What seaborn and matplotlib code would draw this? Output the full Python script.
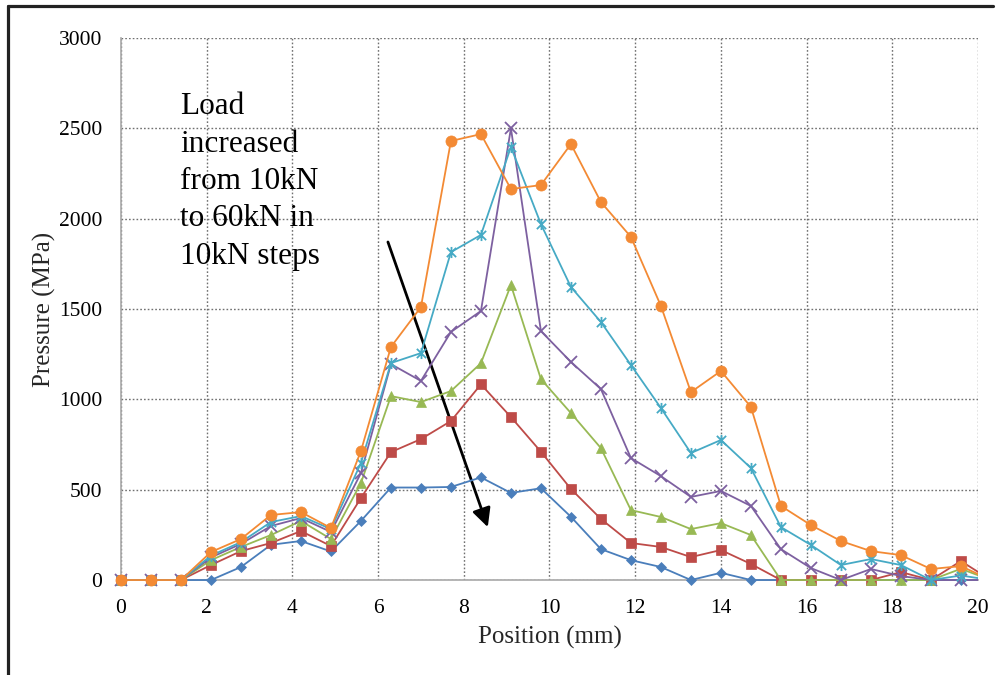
import matplotlib
matplotlib.use("Agg")
import matplotlib.pyplot as plt
from matplotlib.lines import Line2D
from matplotlib.patches import Rectangle
from matplotlib.path import Path
import seaborn as sns
import pandas as pd

# ---- data ----
position = [0.0, 0.7, 1.4, 2.1, 2.8, 3.5, 4.2, 4.9, 5.6, 6.3, 7.0, 7.7, 8.4, 9.1, 9.8,
            10.5, 11.2, 11.9, 12.6, 13.3, 14.0, 14.7, 15.4, 16.1, 16.8, 17.5, 18.2, 18.9, 19.6, 20.3]
load_10kN = [0, 0, 0, 0, 72, 195, 216, 158, 327, 512, 512, 515, 568, 482, 508,
             350, 171, 110, 72, 0, 40, 0, 0, 0, 0, 0, 0, 0, 0, 0]
load_20kN = [0, 0, 0, 83, 160, 205, 271, 188, 454, 708, 780, 880, 1083, 902, 710,
             504, 338, 205, 183, 127, 166, 89, 0, 0, 0, 0, 44, 0, 105, 0]
load_30kN = [0, 0, 0, 110, 183, 249, 327, 227, 537, 1018, 985, 1046, 1200, 1633, 1112,
             924, 730, 387, 349, 282, 315, 249, 0, 0, 0, 0, 0, 0, 62, 0]
load_40kN = [0, 0, 0, 125, 200, 299, 343, 266, 592, 1195, 1102, 1373, 1489, 2500, 1378,
             1207, 1057, 675, 575, 460, 493, 410, 171, 66, 0, 61, 22, 0, 0, 0]
load_50kN = [0, 0, 0, 135, 210, 321, 354, 282, 648, 1201, 1256, 1815, 1910, 2397, 1970,
             1622, 1428, 1190, 952, 703, 775, 620, 293, 194, 83, 116, 83, 0, 25, 0]
load_60kN = [0, 0, 0, 155, 227, 360, 376, 288, 714, 1290, 1511, 2430, 2468, 2164, 2186,
             2413, 2092, 1899, 1517, 1040, 1157, 958, 410, 304, 216, 160, 138, 61, 77, 0]

series_names = ["10kN", "20kN", "30kN", "40kN", "50kN", "60kN"]
series_values = [load_10kN, load_20kN, load_30kN, load_40kN, load_50kN, load_60kN]
x_ticks = [0, 2, 4, 6, 8, 10, 12, 14, 16, 18, 20]
y_ticks = [0, 500, 1000, 1500, 2000, 2500, 3000]
annotation_text = "Load\nincreased\nfrom 10kN\nto 60kN in\n10kN steps"

# ---- styles ----
colors = ["#4A7EBB", "#BE4B48", "#98B954", "#7D60A0", "#46AAC5", "#F38A34"]
star = Path([(-1, -1), (1, 1), (-1, 1), (1, -1), (0, -1.2), (0, 1.2)],
            [Path.MOVETO, Path.LINETO, Path.MOVETO, Path.LINETO, Path.MOVETO, Path.LINETO])
markers = ["D", "s", "^", "x", star, "o"]
msizes = [5.5, 7, 7, 8, 8, 8]

sns.set_style("white")
plt.rcParams["font.family"] = ["Liberation Serif", "DejaVu Serif"]

fig = plt.figure(figsize=(10.03, 6.75), dpi=100)
ax = fig.add_axes([0.1206, 0.1407, 0.8545, 0.8030])

for name, vals, c, m, ms in zip(series_names, series_values, colors, markers, msizes):
    df = pd.DataFrame({"Position": position, "Pressure": vals})
    filled = m not in ("x",) and not isinstance(m, Path)
    sns.lineplot(data=df, x="Position", y="Pressure", ax=ax, color=c, marker=m,
                 markersize=ms, markeredgecolor=c, markerfacecolor=c if filled else "none",
                 markeredgewidth=1.3 if not filled else 0.5, linewidth=1.3,
                 sort=False, errorbar=None, label=name, legend=False)

# let markers on the axes edges show fully, but clip anything beyond x = 20
clip_rect = Rectangle((-0.03, -0.03), 1.03, 1.06, transform=ax.transAxes,
                      facecolor="none", edgecolor="none")
ax.add_patch(clip_rect)
for ln in ax.get_lines():
    ln.set_clip_path(clip_rect)
    ln.set_zorder(4)

ax.set_xlim(0, 20)
ax.set_ylim(0, 3000)
ax.set_xticks(x_ticks)
ax.set_yticks(y_ticks)
ax.set_xticklabels([str(t) for t in x_ticks])
ax.set_yticklabels([str(t) for t in y_ticks])
ax.tick_params(axis="both", labelsize=15.5, colors="#A0A0A0", labelcolor="black",
               direction="out", length=5, width=1)
ax.tick_params(axis="x", pad=9)
ax.tick_params(axis="y", pad=8.5)
ax.grid(True, linestyle=(0, (1.2, 1.5)), color="#707070", linewidth=1.0)
for s in ["top", "right"]:
    ax.spines[s].set_visible(False)
for s in ["left", "bottom"]:
    ax.spines[s].set_color("#A8A8A8")
    ax.spines[s].set_linewidth(1.2)
    ax.spines[s].set_zorder(3)

ax.set_xlabel("Position (mm)", fontsize=18, labelpad=5)
ax.set_ylabel("Pressure (MPa)", fontsize=18, labelpad=2)

ax.text(1.38, 2700, annotation_text, fontsize=22.5, va="top", ha="left",
        linespacing=1.38, color="black")
ax.annotate("", xy=(8.56, 293), xytext=(6.23, 1871),
            arrowprops=dict(arrowstyle="-|>", color="black", lw=2,
                            mutation_scale=28, shrinkA=0, shrinkB=0))

# figure frame (left and top edges)
fig.add_artist(Line2D([0.008, 0.008], [0.0, 0.991], transform=fig.transFigure,
                      color="#222222", linewidth=2.3))
fig.add_artist(Line2D([0.008, 0.990], [0.991, 0.991], transform=fig.transFigure,
                      color="#222222", linewidth=2.3))

fig.savefig("out.png", dpi=100)
